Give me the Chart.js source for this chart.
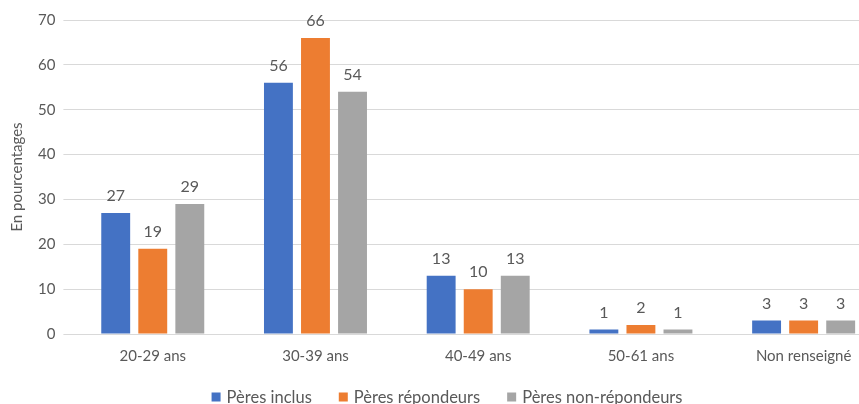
<!DOCTYPE html>
<html>
<head>
<meta charset="utf-8">
<script src="https://cdn.jsdelivr.net/npm/chart.js@4"></script>
<style>
  html, body { margin: 0; padding: 0; background: #fff; overflow: hidden; }
  #wrap { width: 885px; height: 404px; }
</style>
</head>
<body>
<div id="wrap"><canvas id="ageChart" width="885" height="404"></canvas></div>
<script>
// Age groups of fathers (percentages)
const categories = ['20-29 ans', '30-39 ans', '40-49 ans', '50-61 ans', 'Non renseigné'];
const seriesNames = ['Pères inclus', 'Pères répondeurs', 'Pères non-répondeurs'];
const inclus = [27, 56, 13, 1, 3];
const repondeurs = [19, 66, 10, 2, 3];
const nonRepondeurs = [29, 54, 13, 1, 3];
const yTicks = [0, 10, 20, 30, 40, 50, 60, 70];

const colors = ['#4472c4', '#ed7d31', '#a5a5a5'];
const fontFamily = "Lato, 'Open Sans', sans-serif";
const textColor = '#595959';

// value labels above each bar
const valueLabels = {
    id: 'valueLabels',
    afterDatasetsDraw(chart) {
        const ctx = chart.ctx;
        ctx.save();
        ctx.font = '16px ' + fontFamily;
        ctx.fillStyle = textColor;
        ctx.textAlign = 'center';
        ctx.textBaseline = 'alphabetic';
        chart.data.datasets.forEach((ds, i) => {
            const meta = chart.getDatasetMeta(i);
            meta.data.forEach((bar, j) => {
                ctx.fillText(String(ds.data[j]), bar.x, bar.y - 12);
            });
        });
        ctx.restore();
    }
};

// bottom legend, centred under the plot
const bottomLegend = {
    id: 'bottomLegend',
    afterDraw(chart) {
        const ctx = chart.ctx;
        const box = 9, gap = 6, spacing = 27;
        const centerX = 447, centerY = 397;
        ctx.save();
        ctx.font = '16.5px ' + fontFamily;
        ctx.textBaseline = 'middle';
        ctx.textAlign = 'left';
        const items = chart.data.datasets.map(ds => ({
            text: ds.label,
            color: ds.backgroundColor,
            width: box + gap + ctx.measureText(ds.label).width
        }));
        const total = items.reduce((s, it) => s + it.width, 0) + spacing * (items.length - 1);
        let x = centerX - total / 2;
        items.forEach(it => {
            ctx.fillStyle = it.color;
            ctx.fillRect(x, centerY - box / 2, box, box);
            ctx.fillStyle = textColor;
            ctx.fillText(it.text, x + box + gap, centerY + 1);
            x += it.width + spacing;
        });
        ctx.restore();
    }
};

const datasets = [inclus, repondeurs, nonRepondeurs].map((values, i) => ({
    label: seriesNames[i],
    data: values,
    backgroundColor: colors[i],
    categoryPercentage: 0.683,
    barPercentage: 0.78
}));

new Chart(document.getElementById('ageChart'), {
    type: 'bar',
    data: { labels: categories, datasets: datasets },
    plugins: [valueLabels, bottomLegend],
    options: {
        responsive: false,
        animation: false,
        layout: { padding: { top: 20, left: 4, right: 0, bottom: 34 } },
        plugins: {
            tooltip: { enabled: false },
            legend: { display: false }
        },
        scales: {
            x: {
                grid: { display: false },
                border: { color: '#d9d9d9' },
                ticks: { color: textColor, font: { family: fontFamily, size: 15 }, padding: 5 }
            },
            y: {
                min: 0,
                max: 70,
                afterBuildTicks(axis) {
                    axis.ticks = yTicks.map(v => ({ value: v }));
                },
                grid: { color: '#d9d9d9', lineWidth: 1 },
                border: { display: false },
                ticks: { color: textColor, font: { family: fontFamily, size: 15 }, padding: 8 },
                title: {
                    display: true,
                    text: 'En pourcentages',
                    color: textColor,
                    font: { family: fontFamily, size: 15 }
                }
            }
        }
    }
});
</script>
</body>
</html>
